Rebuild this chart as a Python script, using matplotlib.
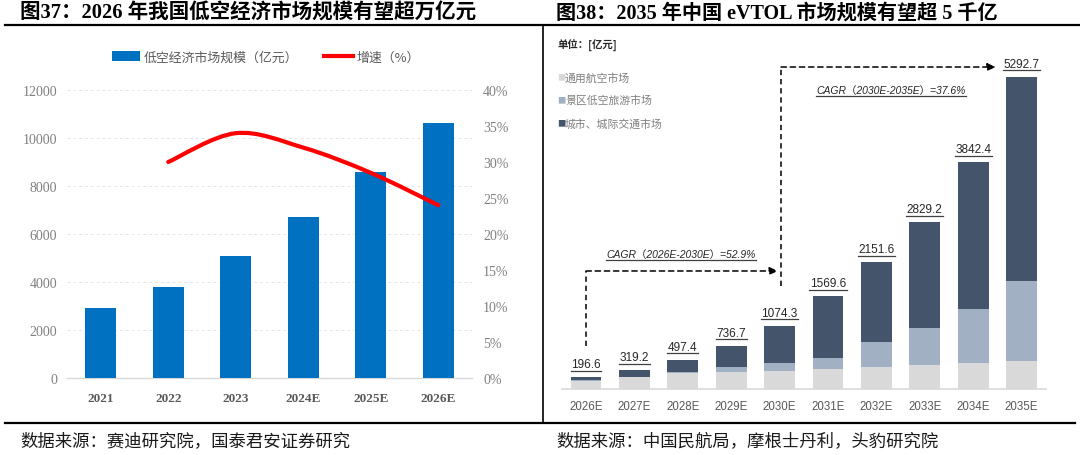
import matplotlib
matplotlib.use('Agg')
import matplotlib.pyplot as plt
from matplotlib.path import Path
from matplotlib.patches import PathPatch, Patch
from matplotlib.lines import Line2D
from matplotlib import font_manager
import matplotlib.transforms as mtrans
import numpy as np

# ---------------- data: left chart ----------------
years_left = ['2021', '2022', '2023', '2024E', '2025E', '2026E']
market_size = [2900, 3800, 5080, 6700, 8590, 10640]
growth_pct = [None, 30.0, 34.0, 32.0, 28.5, 24.0]
left_yticks = [0, 2000, 4000, 6000, 8000, 10000, 12000]
right_yticks = [0, 5, 10, 15, 20, 25, 30, 35, 40]

# ---------------- data: right chart ----------------
years_right = ['2026E', '2027E', '2028E', '2029E', '2030E',
               '2031E', '2032E', '2033E', '2034E', '2035E']
general_aviation = [141, 205, 270, 283, 311, 339, 367, 407, 441, 475]
scenic_tourism = [4, 5, 25, 96, 136, 192, 424, 622, 910, 1363]
urban_transport = [51.6, 109.2, 202.4, 357.7, 627.3, 1038.6, 1360.6, 1800.2, 2491.4, 3454.7]
totals = [196.6, 319.2, 497.4, 736.7, 1074.3, 1569.6, 2151.6, 2829.2, 3842.4, 5292.7]
series_names = ['通用航空市场', '景区低空旅游市场', '城市、城际交通市场']

W, H = 1080, 456
fig = plt.figure(figsize=(W / 100, H / 100), dpi=100)
fig.patch.set_facecolor('white')
renderer = fig.canvas.get_renderer()

def fx(px):
    return px / W

def fy(py):
    return 1 - py / H

names = {f.name for f in font_manager.fontManager.ttflist}
NARROW = 'Liberation Sans Narrow' if 'Liberation Sans Narrow' in names else 'Liberation Sans'
CJK = 'Noto Sans CJK SC'
SERIF = 'Liberation Serif'

def underline(txt, gap=1.5, extra=1.0, color='#404040', lw=0.9):
    bb = txt.get_window_extent(renderer)
    y = bb.y0 - gap
    fig.add_artist(Line2D([bb.x0 - extra, bb.x1 + extra], [y, y], color=color, lw=lw,
                          transform=mtrans.IdentityTransform()))

# ---------------- frame lines & titles ----------------
fig.add_artist(Line2D([fx(5), fx(1080)], [fy(26), fy(26)], color='black', lw=1.6))
fig.add_artist(Line2D([fx(5), fx(1075)], [fy(424), fy(424)], color='black', lw=1.6))
fig.add_artist(Line2D([fx(543), fx(543)], [fy(26), fy(424)], color='black', lw=1.2))

fig.text(fx(20), fy(14), '图37：2026 年我国低空经济市场规模有望超万亿元', fontsize=14.8,
         fontweight='bold', family=[SERIF, CJK], ha='left', va='center', color='black')
fig.text(fx(556), fy(14), '图38：2035 年中国 eVTOL 市场规模有望超 5 千亿', fontsize=14.5,
         fontweight='bold', family=[SERIF, CJK], ha='left', va='center', color='black')
fig.text(fx(20), fy(441), '数据来源：赛迪研究院，国泰君安证券研究', fontsize=12.5,
         family=[CJK], ha='left', va='center', color='#1a1a1a')
fig.text(fx(556), fy(441), '数据来源：中国民航局，摩根士丹利，头豹研究院', fontsize=12.5,
         family=[CJK], ha='left', va='center', color='#1a1a1a')

# ---------------- left chart ----------------
ax = fig.add_axes([fx(67), fy(379), 405 / W, 288 / H])
xl = np.arange(len(years_left))
ax.bar(xl, market_size, width=0.46, color='#0070C0', zorder=3)
ax.set_xlim(-0.5, len(years_left) - 0.5)
ax.set_ylim(0, 12000)
ax.set_yticks(left_yticks)
ax.set_yticklabels([str(v) for v in left_yticks], family=SERIF, fontsize=10, color='#808080')
ax.set_xticks(xl)
ax.set_xticklabels(years_left, family=SERIF, fontsize=9.5, fontweight='bold', color='#595959')
ax.tick_params(axis='both', length=0)
ax.tick_params(axis='y', pad=7)
ax.tick_params(axis='x', pad=10)
for s in ['top', 'right', 'left']:
    ax.spines[s].set_visible(False)
ax.spines['bottom'].set_color('#d9d9d9')
ax.spines['bottom'].set_linewidth(1.0)
ax.yaxis.grid(True, color='#e6e6e6', lw=0.7, ls=(0, (3, 3)), zorder=0)
ax.set_axisbelow(True)

ax2 = ax.twinx()
ax2.set_ylim(0, 40)
ax2.set_yticks(right_yticks)
ax2.set_yticklabels([f'{v}%' for v in right_yticks], family=SERIF, fontsize=10, color='#808080')
ax2.tick_params(axis='y', length=0, pad=8)
for s in ['top', 'right', 'left', 'bottom']:
    ax2.spines[s].set_visible(False)

# smoothed growth line (Catmull-Rom -> cubic Bezier through the data points)
P = np.array([(i, g) for i, g in enumerate(growth_pct) if g is not None], dtype=float)
Pe = np.vstack([P[0], P, P[-1]])
verts = [tuple(P[0])]
codes = [Path.MOVETO]
for k in range(len(P) - 1):
    p0, p1, p2, p3 = Pe[k], Pe[k + 1], Pe[k + 2], Pe[k + 3]
    c1 = p1 + (p2 - p0) / 6.0
    c2 = p2 - (p3 - p1) / 6.0
    verts += [tuple(c1), tuple(c2), tuple(p2)]
    codes += [Path.CURVE4] * 3
ax2.add_patch(PathPatch(Path(verts, codes), fill=False, edgecolor='#FF0000', lw=3,
                        capstyle='round', zorder=5))

handles = [Patch(facecolor='#0070C0', edgecolor='none'),
           Line2D([0], [0], color='#FF0000', lw=3)]
fig.legend(handles, ['低空经济市场规模（亿元）', '增速（%）'], loc='center',
           bbox_to_anchor=(fx(266), fy(58)), ncol=2, frameon=False,
           prop={'family': [CJK], 'size': 9.3}, labelcolor='#595959',
           handlelength=2.2, handletextpad=0.3, columnspacing=2.0)

# ---------------- right chart ----------------
axr = fig.add_axes([fx(561.8), fy(390), 484 / W, 350 / H])
xr = np.arange(len(years_right))
c_ga, c_st, c_ut = '#D9D9D9', '#A2B0C3', '#44546A'
b1 = np.array(general_aviation)
b2 = b1 + np.array(scenic_tourism)
axr.bar(xr, general_aviation, width=0.64, color=c_ga, zorder=2)
axr.bar(xr, scenic_tourism, width=0.64, bottom=b1, color=c_st, zorder=2)
axr.bar(xr, urban_transport, width=0.64, bottom=b2, color=c_ut, zorder=2)
axr.set_xlim(-0.5, len(years_right) - 0.5)
axr.set_ylim(0, 350 / 0.05895)
axr.set_yticks([])
axr.set_xticks(xr)
axr.set_xticklabels(years_right, family=NARROW, fontsize=8.3, color='#595959')
axr.tick_params(axis='x', length=0, pad=8)
for s in ['top', 'right', 'left']:
    axr.spines[s].set_visible(False)
axr.spines['bottom'].set_color('#d9d9d9')
axr.spines['bottom'].set_linewidth(1.2)

for i, t in enumerate(totals):
    tr_text = mtrans.offset_copy(axr.transData, fig=fig, y=10, units='dots')
    txt = axr.text(i, t, f'{t:.1f}', transform=tr_text, ha='center', va='baseline',
                   family=NARROW, fontsize=8.5, color='#262626')
    underline(txt, gap=0.5, extra=0.5)

# dashed CAGR arrows
dash = (0, (3.5, 2.5))
axr.plot([0, 0], [729, 2002], color='black', lw=1.1, ls=dash, clip_on=False)
axr.annotate('', xy=(3.97, 2002), xytext=(0, 2002),
             arrowprops=dict(arrowstyle='-|>,head_length=0.5,head_width=0.22', color='black',
                             lw=1.1, ls=dash, shrinkA=0, shrinkB=0))
axr.plot([4.03, 4.03], [1747, 5462], color='black', lw=1.1, ls=dash, clip_on=False)
axr.annotate('', xy=(8.47, 5462), xytext=(4.03, 5462),
             arrowprops=dict(arrowstyle='-|>,head_length=0.5,head_width=0.22', color='black',
                             lw=1.1, ls=dash, shrinkA=0, shrinkB=0))

for xc, yb, s in [(1.96, 2239, 'CAGR（2026E-2030E）=52.9%'),
                  (6.30, 5021, 'CAGR（2030E-2035E）=37.6%')]:
    txt = axr.text(xc, yb, s, ha='center', va='baseline', family=[NARROW, CJK],
                   fontsize=7.5, style='italic', color='#262626')
    underline(txt, gap=0.5, extra=0.0)

# right legend
fig.text(fx(558), fy(46), '单位：[亿元]', fontsize=7.5, fontweight='bold',
         family=[CJK], color='#262626', ha='left', va='center')
for yy, col, nm in zip([78, 101, 124], [c_ga, c_st, c_ut], series_names):
    fig.text(fx(557), fy(yy), '■', fontsize=6, family=[CJK], color=col, ha='left', va='center')
    fig.text(fx(565), fy(yy), nm, fontsize=7.8, family=[CJK], color='#7f7f7f',
             ha='left', va='center')

fig.savefig('out.png', dpi=100, facecolor='white')
